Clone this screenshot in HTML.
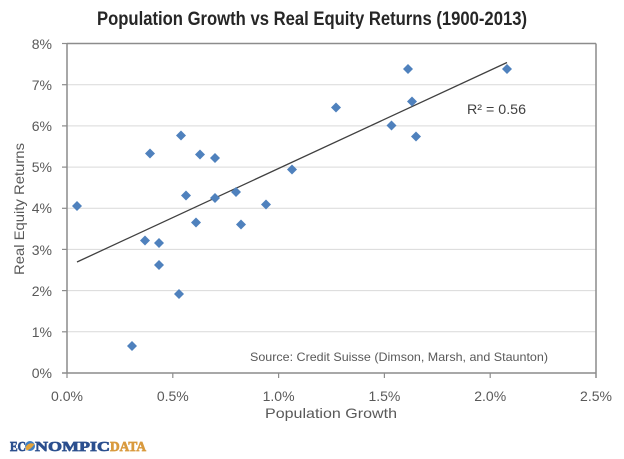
<!DOCTYPE html>
<html>
<head>
<meta charset="utf-8">
<style>
html,body{margin:0;padding:0;background:#fff;}
svg{display:block;}
text{font-family:"Liberation Sans",sans-serif;}
</style>
</head>
<body>
<svg width="624" height="459" viewBox="0 0 624 459" xmlns="http://www.w3.org/2000/svg">
<rect width="624" height="459" fill="#fff"/>
<!-- title -->
<text x="97" y="25" font-size="19" font-weight="bold" fill="#262626" textLength="430" lengthAdjust="spacingAndGlyphs">Population Growth vs Real Equity Returns (1900-2013)</text>

<!-- gridlines -->
<g stroke="#d9d9d9" stroke-width="1">
<line x1="67" y1="331.8" x2="596" y2="331.8"/>
<line x1="67" y1="290.6" x2="596" y2="290.6"/>
<line x1="67" y1="249.4" x2="596" y2="249.4"/>
<line x1="67" y1="208.3" x2="596" y2="208.3"/>
<line x1="67" y1="167.1" x2="596" y2="167.1"/>
<line x1="67" y1="125.9" x2="596" y2="125.9"/>
<line x1="67" y1="84.7" x2="596" y2="84.7"/>
</g>

<!-- plot border / axes -->
<g stroke="#8c8c8c" stroke-width="1.5" fill="none">
<line x1="67" y1="43.5" x2="596" y2="43.5"/>
<line x1="596" y1="43.5" x2="596" y2="378"/>
<line x1="67" y1="43.5" x2="67" y2="373"/>
<line x1="62" y1="373" x2="596" y2="373"/>
</g>
<!-- y ticks -->
<g stroke="#8c8c8c" stroke-width="1.2">
<line x1="62" y1="43.5" x2="67" y2="43.5"/>
<line x1="62" y1="84.7" x2="67" y2="84.7"/>
<line x1="62" y1="125.9" x2="67" y2="125.9"/>
<line x1="62" y1="167.1" x2="67" y2="167.1"/>
<line x1="62" y1="208.3" x2="67" y2="208.3"/>
<line x1="62" y1="249.4" x2="67" y2="249.4"/>
<line x1="62" y1="290.6" x2="67" y2="290.6"/>
<line x1="62" y1="331.8" x2="67" y2="331.8"/>
<!-- x ticks -->
<line x1="67" y1="373" x2="67" y2="378"/>
<line x1="172.8" y1="373" x2="172.8" y2="378"/>
<line x1="278.6" y1="373" x2="278.6" y2="378"/>
<line x1="384.4" y1="373" x2="384.4" y2="378"/>
<line x1="490.2" y1="373" x2="490.2" y2="378"/>
</g>

<!-- y labels -->
<g font-size="14" fill="#595959" text-anchor="end">
<text x="52" y="49">8%</text>
<text x="52" y="90">7%</text>
<text x="52" y="131">6%</text>
<text x="52" y="172">5%</text>
<text x="52" y="213">4%</text>
<text x="52" y="255">3%</text>
<text x="52" y="296">2%</text>
<text x="52" y="337">1%</text>
<text x="52" y="378">0%</text>
</g>
<!-- x labels -->
<g font-size="14" fill="#595959" text-anchor="middle">
<text x="67" y="401">0.0%</text>
<text x="172.8" y="401">0.5%</text>
<text x="278.6" y="401">1.0%</text>
<text x="384.4" y="401">1.5%</text>
<text x="490.2" y="401">2.0%</text>
<text x="596" y="401">2.5%</text>
</g>

<!-- axis titles -->
<text x="265" y="418" font-size="14" fill="#595959" textLength="132" lengthAdjust="spacingAndGlyphs">Population Growth</text>
<text transform="translate(24,275) rotate(-90)" font-size="14" fill="#595959" textLength="132" lengthAdjust="spacingAndGlyphs">Real Equity Returns</text>

<!-- trendline -->
<line x1="77" y1="262" x2="507" y2="62.5" stroke="#404040" stroke-width="1.3"/>

<!-- data points -->
<g fill="#4f81bd">
<path d="M77 201 L82 206 L77 211 L72 206Z"/>
<path d="M132 341 L137 346 L132 351 L127 346Z"/>
<path d="M145 235.5 L150 240.5 L145 245.5 L140 240.5Z"/>
<path d="M150 148.5 L155 153.5 L150 158.5 L145 153.5Z"/>
<path d="M159 238 L164 243 L159 248 L154 243Z"/>
<path d="M159 260 L164 265 L159 270 L154 265Z"/>
<path d="M179 289 L184 294 L179 299 L174 294Z"/>
<path d="M181 130.5 L186 135.5 L181 140.5 L176 135.5Z"/>
<path d="M186 190.5 L191 195.5 L186 200.5 L181 195.5Z"/>
<path d="M196 217.5 L201 222.5 L196 227.5 L191 222.5Z"/>
<path d="M200 149.5 L205 154.5 L200 159.5 L195 154.5Z"/>
<path d="M215 153 L220 158 L215 163 L210 158Z"/>
<path d="M215 193 L220 198 L215 203 L210 198Z"/>
<path d="M236 187 L241 192 L236 197 L231 192Z"/>
<path d="M241 219.5 L246 224.5 L241 229.5 L236 224.5Z"/>
<path d="M266 199.5 L271 204.5 L266 209.5 L261 204.5Z"/>
<path d="M292 164.5 L297 169.5 L292 174.5 L287 169.5Z"/>
<path d="M336 102.5 L341 107.5 L336 112.5 L331 107.5Z"/>
<path d="M391.5 120.5 L396.5 125.5 L391.5 130.5 L386.5 125.5Z"/>
<path d="M408 64 L413 69 L408 74 L403 69Z"/>
<path d="M412 96.5 L417 101.5 L412 106.5 L407 101.5Z"/>
<path d="M416 131.5 L421 136.5 L416 141.5 L411 136.5Z"/>
<path d="M507 64 L512 69 L507 74 L502 69Z"/>
</g>

<!-- R squared -->
<text x="467" y="114" font-size="14" fill="#404040" textLength="59" lengthAdjust="spacingAndGlyphs">R² = 0.56</text>

<!-- source -->
<text x="250" y="361" font-size="12" fill="#595959" textLength="298" lengthAdjust="spacingAndGlyphs">Source: Credit Suisse (Dimson, Marsh, and Staunton)</text>

<!-- logo -->
<g font-weight="bold" font-size="14">
<text x="10" y="451" fill="#2b4f8e" stroke="#2b4f8e" stroke-width="0.7" textLength="16" lengthAdjust="spacingAndGlyphs" style="font-family:'Liberation Serif',serif">EC</text>
<circle cx="30" cy="446" r="5" fill="#3f7fc4"/>
<path d="M25.5 447 Q29 441.5 34.5 444 Q31 449.5 26.5 450.5Z" fill="#e3a33a"/>
<text x="35" y="451" fill="#2b4f8e" stroke="#2b4f8e" stroke-width="0.7" textLength="75" lengthAdjust="spacingAndGlyphs" style="font-family:'Liberation Serif',serif">NOMPIC</text>
<text x="110" y="451" fill="#d99a3e" stroke="#d99a3e" stroke-width="0.7" textLength="36" lengthAdjust="spacingAndGlyphs" style="font-family:'Liberation Serif',serif">DATA</text>
</g>
</svg>
</body>
</html>
